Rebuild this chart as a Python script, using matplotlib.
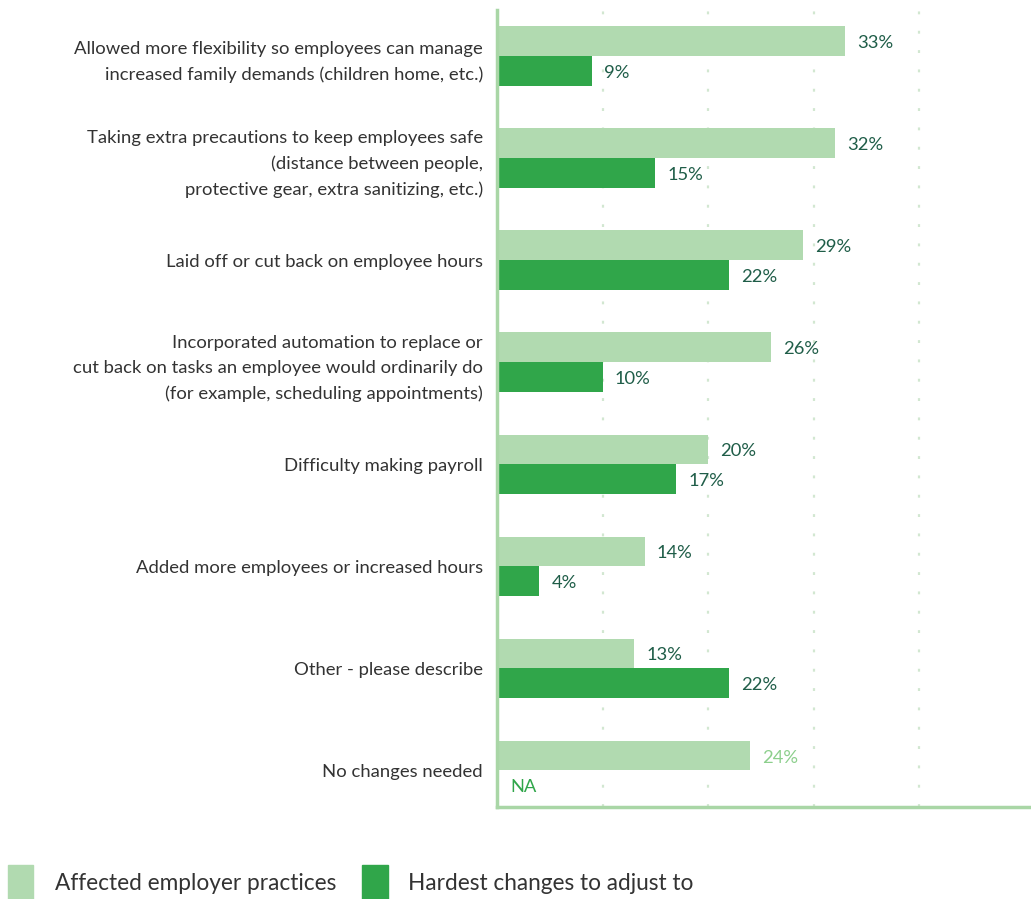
import matplotlib
matplotlib.use("Agg")
import matplotlib.pyplot as plt
from matplotlib.patches import Rectangle

categories = [
    "Allowed more flexibility so employees can manage\nincreased family demands (children home, etc.)",
    "Taking extra precautions to keep employees safe\n(distance between people,\nprotective gear, extra sanitizing, etc.)",
    "Laid off or cut back on employee hours",
    "Incorporated automation to replace or\ncut back on tasks an employee would ordinarily do\n(for example, scheduling appointments)",
    "Difficulty making payroll",
    "Added more employees or increased hours",
    "Other - please describe",
    "No changes needed",
]
affected = [33, 32, 29, 26, 20, 14, 13, 24]
hardest = [9, 15, 22, 10, 17, 4, 22, None]
series_names = ["Affected employer practices", "Hardest changes to adjust to"]
grid_ticks = [10, 20, 30, 40]

LIGHT = "#b1dab0"
DARK = "#30a64a"
LABEL = "#1f5d48"
TEXT = "#333333"
SPINE = "#a9d6a6"

plt.rcParams["font.family"] = ["Lato", "DejaVu Sans"]

W, H = 1031, 899
fig = plt.figure(figsize=(W / 100, H / 100), dpi=100)
ax = fig.add_axes([497 / W, 1 - 807 / H, (1030 - 497) / W, (807 - 10) / H])

bar_h = 0.29
ys = list(range(len(categories)))
ax.barh([y - bar_h / 2 for y in ys], affected, height=bar_h, color=LIGHT, zorder=2)
for y, v in zip(ys, hardest):
    if v is not None:
        ax.barh(y + bar_h / 2, v, height=bar_h, color=DARK, zorder=2)

pad = 1.15
vfs = 13.2
for y, v in zip(ys, affected):
    col = "#8ccf8c" if hardest[y] is None else LABEL
    ax.text(v + pad, y - bar_h / 2 + 0.02, f"{v}%", va="center", ha="left",
            fontsize=vfs, color=col)
for y, v in zip(ys, hardest):
    if v is None:
        ax.text(1.3, y + bar_h / 2 + 0.02, "NA", va="center", ha="left",
                fontsize=vfs, color=DARK)
    else:
        ax.text(v + pad, y + bar_h / 2 + 0.02, f"{v}%", va="center", ha="left",
                fontsize=vfs, color=LABEL)

for t in grid_ticks:
    ax.axvline(t, color="#d2e7d1", lw=1.6, ls=(0, (1.3, 7.4)),
               dash_capstyle="butt", zorder=1)

ax.set_xlim(0, 50.5)
ax.set_ylim(len(categories) - 1 + 0.36, -0.45)
ax.set_xticks([])
ax.set_yticks(ys)
ax.set_yticklabels(categories, fontsize=13.3, color=TEXT, linespacing=1.7)
ax.tick_params(axis="y", length=0, pad=10)
for s in ["top", "right"]:
    ax.spines[s].set_visible(False)
for s in ["left", "bottom"]:
    ax.spines[s].set_color(SPINE)
    ax.spines[s].set_linewidth(2.5)

# legend drawn in figure pixels
def fx(px):
    return px / W

def fy(py):
    return 1 - py / H

fig.patches.append(Rectangle((fx(8), fy(899)), fx(25), 34 / H, color=LIGHT,
                             transform=fig.transFigure, figure=fig))
fig.text(fx(55), fy(884), series_names[0], fontsize=16.3, color=TEXT,
         va="center", ha="left")
fig.patches.append(Rectangle((fx(362), fy(899)), fx(26), 34 / H, color=DARK,
                             transform=fig.transFigure, figure=fig))
fig.text(fx(408), fy(884), series_names[1], fontsize=16.3, color=TEXT,
         va="center", ha="left")

fig.savefig("out.png", dpi=100, facecolor="white")
